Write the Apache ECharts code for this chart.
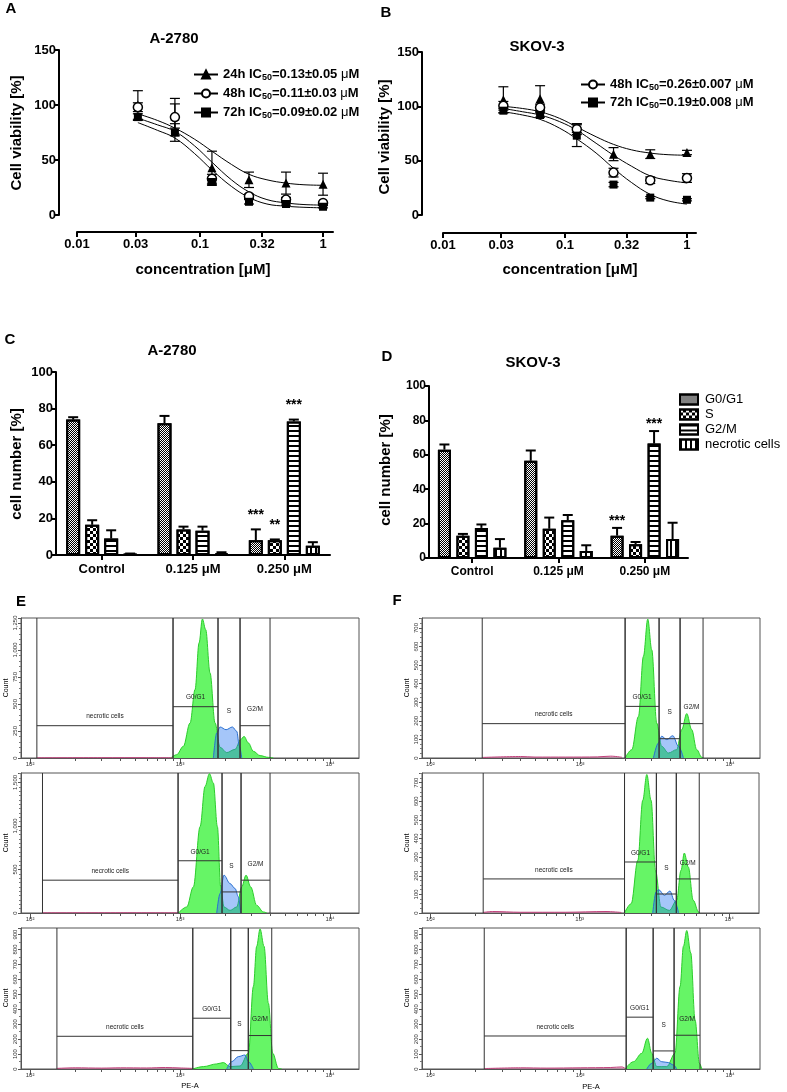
<!DOCTYPE html>
<html><head><meta charset="utf-8">
<script src="https://cdn.jsdelivr.net/npm/echarts@6/dist/echarts.min.js"></script>
<style>html,body{margin:0;padding:0;background:#fff}#c{width:787px;height:1092px}</style>
</head><body><div id="c"></div>
<script>
const FONT = '"Liberation Sans", Arial, sans-serif';
// ---------- Panels A / B : dose response ----------
const conc = [0.03125, 0.0625, 0.125, 0.25, 0.5, 1];
const doseTicks = [0.01, 0.03, 0.1, 0.32, 1];
const doseTickLabels = ['0.01', '0.03', '0.1', '0.32', '1'];
const A_24h = [100, 90, 43, 32, 29, 28];
const A_24h_err = [13, 11, 15, 7, 10, 10];
const A_48h = [98, 89, 33, 17, 14, 11];
const A_48h_err = [4, 17, 4, 2, 2, 1];
const A_72h = [89, 75, 30, 12, 10, 7.5];
const A_72h_err = [3, 8, 3, 2, 1, 1];
const curveConc = [0.03125, 0.045, 0.0625, 0.09, 0.125, 0.18, 0.25, 0.35, 0.5, 0.7, 1];
const A_fit24 = [92, 86, 79, 69, 58, 46, 37, 32, 29, 27.5, 27];
const A_fit48 = [88, 82, 76, 63, 48, 32, 21, 14, 11, 9.5, 9];
const A_fit72 = [84, 77, 70, 56, 41, 26, 16, 10, 8, 7, 6.5];
const B_24h = [106, 107, 80, 56, 56, 57.5];
const B_24h_err = [12, 12, 4, 6, 4, 2];
const B_48h = [100.5, 99, 79, 39, 32, 34];
const B_48h_err = [4, 3, 5, 4, 3, 4];
const B_72h = [96, 92, 73, 28, 16, 14];
const B_72h_err = [2, 2, 10, 2, 1, 1];
const B_fit24 = [100, 98, 95, 89, 81, 72, 65, 60, 57, 55.5, 55];
const B_fit48 = [98, 95, 92, 86, 78, 66, 55, 45, 36, 32, 29.5];
const B_fit72 = [95, 92, 88, 80, 70, 57, 43, 30, 19, 13, 10];
const legendTextA = {'A 24h': ['24h IC', '50', '=0.13±0.05 '], 'A 48h': ['48h IC', '50', '=0.11±0.03 '], 'A 72h': ['72h IC', '50', '=0.09±0.02 ']};
const legendTextB = {'B 48h': ['48h IC', '50', '=0.26±0.007 '], 'B 72h': ['72h IC', '50', '=0.19±0.008 ']};

// ---------- Panels C / D : cell cycle bars ----------
const groups = ['Control', '0.125 μM', '0.250 μM'];
const phases = ['G0/G1', 'S', 'G2/M', 'necrotic cells'];
const C_vals = [[74, 72, 8], [16.5, 14, 8], [9, 13.3, 73], [0.5, 1, 5]];
const C_errs = [[1.3, 4, 6], [2.5, 1.5, 0.5], [4.5, 2.2, 1], [0.3, 0.5, 2]];
const C_sig = [['', '', '***'], ['', '', '**'], ['', '', '***'], ['', '', '']];
const D_vals = [[63, 56.5, 13], [13, 17, 8], [17.5, 22, 66.5], [6, 4, 11]];
const D_errs = [[3, 6, 4.5], [1, 6.5, 1.3], [2, 3, 7.3], [5, 3.4, 9.5]];
const D_sig = [['', '', '***'], ['', '', ''], ['', '', '***'], ['', '', '']];

// ---------- Panels E / F : flow cytometry histograms ----------
const flowMinorTicks = [100,200,300,400,500,600,700,800,900,1000,2000,3000,4000,5000,6000,7000,8000,9000,10000];
const flowMajorTicks = [100, 1000, 10000];
const gateNames = ['necrotic cells', 'G0/G1', 'S', 'G2/M'];
const E1_green = [[867,0],[950,31],[1052,108],[1166,324],[1259,633],[1339,1065],[1409,1287],[1483,1188],[1585,787],[1711,324],[1848,100],[2047,50],[2327,80],[2536,170],[2671,200],[2856,139],[3083,62],[3415,22],[3880,6],[4188,0]];
const E1_blue = [[1668,0],[1756,231],[1848,287],[2027,262],[2234,287],[2388,247],[2487,108],[2577,0]];
const E1_debris = [[111,2],[300,3],[600,3],[898,2]];
const E1_gates = [[111,898,299],[898,1791,475],[1791,2512,null],[2512,3981,299]];
const E2_green = [[975,0],[1108,69],[1227,300],[1360,992],[1468,1454],[1570,1600],[1668,1492],[1774,992],[1866,300],[1963,69],[2154,30],[2388,69],[2577,300],[2754,435],[2958,300],[3243,88],[3594,12],[3786,0]];
const E2_blue = [[1756,0],[1848,223],[1963,435],[2154,338],[2327,281],[2449,185],[2536,0]];
const E2_debris = [[121,2],[400,3],[970,2]];
const E2_gates = [[121,970,377],[970,1905,600],[1905,2551,242],[2551,3981,377]];
const E3_green = [[1214,0],[1431,16],[1756,34],[1944,43],[2154,16],[2512,20],[2856,105],[3083,553],[3243,822],[3415,938],[3631,822],[3880,441],[4150,105],[4529,4],[4764,0]];
const E3_blue = [[2047,0],[2210,49],[2449,83],[2712,94],[2856,49],[3083,0]];
const E3_debris = [[151,4],[200,8],[300,6],[400,8],[600,7],[800,10],[1000,7],[1216,4]];
const E3_gates = [[151,1216,219],[1216,2178,340],[2178,2851,123],[2851,4086,224]];
const F1_green = [[1995,0],[2210,45],[2449,224],[2642,547],[2825,748],[3004,583],[3243,188],[3499,63],[3880,27],[4406,45],[4764,153],[5143,239],[5549,153],[5995,45],[6477,4],[6643,0]];
const F1_blue = [[3083,0],[3327,81],[3499,117],[3784,99],[4150,120],[4529,63],[4888,0]];
const F1_debris = [[222,3],[400,8],[500,5],[800,5],[1300,6],[1600,10],[1900,4]];
const F1_gates = [[222,1995,185],[1995,3362,278],[3362,4642,104],[4642,6607,185]];
const F2_green = [[1995,0],[2210,50],[2449,283],[2642,605],[2813,744],[3004,605],[3214,229],[3499,32],[3981,14],[4457,68],[4764,229],[5012,322],[5330,247],[5754,68],[6252,5],[6374,0]];
const F2_blue = [[3083,0],[3243,113],[3381,125],[3690,95],[4018,118],[4295,68],[4592,0]];
const F2_debris = [[226,3],[260,8],[400,4],[800,4],[1500,8],[1900,3]];
const F2_gates = [[226,1995,183],[1995,3260,274],[3260,4432,102],[4432,6310,183]];
const F3_green = [[1995,0],[2268,49],[2577,105],[2813,206],[3004,105],[3243,16],[3784,16],[4295,105],[4642,553],[4888,822],[5143,927],[5470,777],[5843,329],[6252,38],[6477,0]];
const F3_blue = [[2783,0],[3004,38],[3243,72],[3499,49],[3880,43],[4188,27],[4406,0]];
const F3_debris = [[229,3],[400,8],[600,6],[1000,8],[1600,10],[1900,14],[1995,4]];
const F3_gates = [[229,2028,221],[2028,3069,347],[3069,4234,121],[4234,6310,226]];
const flowYMax = [1296, 1608, 944, 754, 752, 944];
const flowYInterval = [250, 500, 100, 100, 100, 100];

// ================= build option =================
const chart = echarts.init(document.getElementById('c'), null, {renderer: 'canvas'});
const flowData = [
  [E1_green, E1_blue, E1_debris, E1_gates], [E2_green, E2_blue, E2_debris, E2_gates], [E3_green, E3_blue, E3_debris, E3_gates],
  [F1_green, F1_blue, F1_debris, F1_gates], [F2_green, F2_blue, F2_debris, F2_gates], [F3_green, F3_blue, F3_debris, F3_gates]
];
const flowGridPos = [
  {left: 21, top: 618, width: 338, height: 140}, {left: 21, top: 773, width: 338, height: 140}, {left: 21, top: 928, width: 338, height: 141},
  {left: 422, top: 618, width: 338, height: 140}, {left: 422, top: 773, width: 337, height: 140}, {left: 422, top: 928, width: 338, height: 141}
];
const flowXRange = [[87, 15600], [87, 15600], [87, 15600], [88, 15850], [88, 15850], [88, 15850]];
const flowMinorSplit = [5, 10, 2, 4, 4, 2];

const grid = [
  {left: 77, top: 50, width: 256, height: 165},
  {left: 443, top: 52, width: 253, height: 163},
  {left: 56, top: 372, width: 274, height: 183},
  {left: 429, top: 386, width: 259, height: 172}
].concat(flowGridPos.map(p => Object.assign({show: true, borderColor: '#555', borderWidth: 1, backgroundColor: 'transparent'}, p)));

function nearestDoseLabel(v) {
  let best = 0, bd = 1e9;
  doseTicks.forEach((t, i) => { const d = Math.abs(Math.log10(t) - Math.log10(v)); if (d < bd) { bd = d; best = i; } });
  return doseTickLabels[best];
}
function doseX(gi, max, offset) {
  return {type: 'log', logBase: 10, gridIndex: gi, min: 0.01, max: max, offset: offset, position: 'bottom',
    axisLine: {show: true, onZero: false, lineStyle: {color: '#000', width: 2}},
    axisTick: {show: true, customValues: doseTicks, length: 5, lineStyle: {color: '#000', width: 2}},
    axisLabel: {show: true, customValues: doseTicks, formatter: nearestDoseLabel, fontFamily: FONT, fontWeight: 'bold', fontSize: 13, color: '#000', margin: 6},
    splitLine: {show: false}, minorTick: {show: false}};
}
function boldY(gi, max, interval, offset, fs) {
  return {type: 'value', gridIndex: gi, min: 0, max: max, interval: interval, offset: offset, position: 'left',
    axisLine: {show: true, onZero: false, lineStyle: {color: '#000', width: 2}},
    axisTick: {show: true, length: 5, lineStyle: {color: '#000', width: 2}},
    axisLabel: {fontFamily: FONT, fontWeight: 'bold', fontSize: fs, color: '#000', margin: 3},
    splitLine: {show: false}};
}
function catX(gi, fs) {
  return {type: 'category', gridIndex: gi, data: groups, position: 'bottom',
    axisLine: {show: true, onZero: false, lineStyle: {color: '#000', width: 2}},
    axisTick: {show: true, alignWithLabel: true, length: 5, lineStyle: {color: '#000', width: 2}},
    axisLabel: {fontFamily: FONT, fontWeight: 'bold', fontSize: fs, color: '#000', margin: 8},
    splitLine: {show: false}};
}
const supDigits = {2: '²', 3: '³', 4: '⁴'};
const xAxis = [doseX(0, 1.205, 17), doseX(1, 1.186, 18), catX(2, 13), catX(3, 12)];
const yAxis = [boldY(0, 150, 50, 18, 13), boldY(1, 150, 50, 21, 13), boldY(2, 100, 20, 0, 13), boldY(3, 100, 20, 0, 12)];
flowGridPos.forEach((p, k) => {
  const gi = 4 + k;
  xAxis.push({type: 'log', logBase: 10, gridIndex: gi, min: flowXRange[k][0], max: flowXRange[k][1], position: 'bottom',
    axisLine: {show: true, onZero: false, lineStyle: {color: '#555', width: 1}},
    axisTick: {show: true, customValues: flowMinorTicks, length: 3, lineStyle: {color: '#555'}},
    axisLabel: {show: false}, splitLine: {show: false}});
  yAxis.push({type: 'value', gridIndex: gi, min: 0, max: flowYMax[k], interval: flowYInterval[k], position: 'left',
    axisLine: {show: true, onZero: false, lineStyle: {color: '#555', width: 1}},
    axisTick: {show: true, length: 3, lineStyle: {color: '#555'}},
    minorTick: {show: true, splitNumber: flowMinorSplit[k], length: 2, lineStyle: {color: '#777'}},
    axisLabel: {rotate: 90, fontSize: 6, margin: 3, color: '#333', fontFamily: FONT, showMaxLabel: false,
      formatter: v => v.toLocaleString('en-US')},
    splitLine: {show: false}});
});
flowGridPos.forEach((p, k) => {
  xAxis.push({type: 'log', logBase: 10, gridIndex: 4 + k, min: flowXRange[k][0], max: flowXRange[k][1], position: 'bottom',
    axisLine: {show: false, onZero: false},
    axisTick: {show: true, customValues: flowMajorTicks, length: 6, lineStyle: {color: '#555'}},
    axisLabel: {show: true, customValues: flowMajorTicks, fontSize: 6, margin: 3, color: '#333', fontFamily: FONT,
      formatter: v => '10' + supDigits[Math.round(Math.log10(v))]},
    splitLine: {show: false}});
});

const series = [];
// ---- dose-response series
function curve(name, ai, vals, symbol, size) {
  return {name: name, type: 'line', xAxisIndex: ai, yAxisIndex: ai, data: curveConc.map((c, i) => [c, vals[i]]),
    smooth: 0.4, showSymbol: false, symbol: symbol, symbolSize: size, silent: true, z: 2,
    lineStyle: {color: '#000', width: 1}, itemStyle: {color: '#000', borderColor: '#000', borderWidth: 1.5}};
}
function doseErr(ai, vals, errs) {
  return {type: 'custom', xAxisIndex: ai, yAxisIndex: ai, z: 3, silent: true,
    data: conc.map((c, i) => [c, vals[i], errs[i]]), encode: {x: 0, y: 1},
    renderItem: (params, api) => {
      const x = api.value(0), v = api.value(1), e = api.value(2);
      const p0 = api.coord([x, v - e]), p1 = api.coord([x, v + e]);
      const cx = p0[0];
      const st = {stroke: '#000', lineWidth: 1.2};
      return {type: 'group', children: [
        {type: 'line', shape: {x1: cx, y1: p0[1], x2: cx, y2: p1[1]}, style: st},
        {type: 'line', shape: {x1: cx - 5, y1: p1[1], x2: cx + 5, y2: p1[1]}, style: st},
        {type: 'line', shape: {x1: cx - 5, y1: p0[1], x2: cx + 5, y2: p0[1]}, style: st}]};
    }};
}
function markers(ai, vals, symbol, size, fill) {
  return {type: 'scatter', xAxisIndex: ai, yAxisIndex: ai, z: 4, silent: true, symbol: symbol, symbolSize: size,
    data: conc.map((c, i) => [c, vals[i]]),
    itemStyle: {color: fill, borderColor: '#000', borderWidth: fill === '#fff' ? 1.5 : 0, opacity: 1}};
}
series.push(curve('A 24h', 0, A_fit24, 'triangle', 10), curve('A 48h', 0, A_fit48, 'emptyCircle', 10), curve('A 72h', 0, A_fit72, 'rect', 9));
series.push(doseErr(0, A_24h, A_24h_err), doseErr(0, A_48h, A_48h_err), doseErr(0, A_72h, A_72h_err));
series.push(markers(0, A_24h, 'triangle', 9, '#000'), markers(0, A_48h, 'circle', 9, '#fff'), markers(0, A_72h, 'rect', 8, '#000'));
series.push(curve('B 24h', 1, B_fit24, 'triangle', 10), curve('B 48h', 1, B_fit48, 'emptyCircle', 10), curve('B 72h', 1, B_fit72, 'rect', 9));
series.push(doseErr(1, B_24h, B_24h_err), doseErr(1, B_48h, B_48h_err), doseErr(1, B_72h, B_72h_err));
series.push(markers(1, B_24h, 'triangle', 9, '#000'), markers(1, B_48h, 'circle', 9, '#fff'), markers(1, B_72h, 'rect', 8, '#000'));

// ---- bar series
const decals = [
  {symbol: 'rect', symbolSize: 1, symbolKeepAspect: false, color: '#000', dashArrayX: [[1, 1], [0, 1, 1, 0]], dashArrayY: [1, 0]},
  {symbol: 'rect', symbolSize: 1, symbolKeepAspect: false, color: '#000', dashArrayX: [[3, 3], [0, 3, 3, 0]], dashArrayY: [3, 0]},
  {symbol: 'rect', symbolSize: 1, symbolKeepAspect: false, color: '#000', dashArrayX: [1, 0], dashArrayY: [1.5, 2.5]},
  {symbol: 'rect', symbolSize: 1, symbolKeepAspect: false, color: '#000', dashArrayX: [1.5, 3], dashArrayY: [1, 0]}
];
function barSet(ai, prefix, vals, errs, sigs, barW, gap, starOff) {
  phases.forEach((ph, k) => {
    series.push({name: prefix + ph, type: 'bar', xAxisIndex: ai, yAxisIndex: ai, data: vals[k], barWidth: barW,
      barGap: (gap / barW * 100) + '%', silent: true, z: 2,
      itemStyle: {color: '#fff', borderColor: '#000', borderWidth: 2, decal: decals[k]}});
  });
  phases.forEach((ph, k) => {
    const off = (k - 1.5) * (barW + gap);
    series.push({type: 'custom', xAxisIndex: ai, yAxisIndex: ai, z: 3, silent: true,
      data: vals[k].map((v, i) => [i, v + errs[k][i]]), encode: {x: 0, y: 1},
      renderItem: (params, api) => {
        const i = params.dataIndex;
        const base = api.coord([i, vals[k][i]]), top = api.coord([i, vals[k][i] + errs[k][i]]);
        const x = base[0] + off;
        const st = {stroke: '#000', lineWidth: 2};
        const ch = [
          {type: 'line', shape: {x1: x, y1: base[1], x2: x, y2: top[1]}, style: st},
          {type: 'line', shape: {x1: x - 5, y1: top[1], x2: x + 5, y2: top[1]}, style: st}];
        if (sigs[k][i]) ch.push({type: 'text', x: x, y: top[1] - starOff,
          style: {text: sigs[k][i], font: 'bold 14px ' + FONT, fill: '#000', align: 'center', verticalAlign: 'bottom', textAlign: 'center', textVerticalAlign: 'bottom'}});
        return {type: 'group', children: ch};
      }});
  });
}
barSet(2, 'c ', C_vals, C_errs, C_sig, 14, 5, 7);
barSet(3, '', D_vals, D_errs, D_sig, 13, 5.5, 0);

// ---- flow series
const labelOff = [9, 9, 26, 16];
flowData.forEach((fd, k) => {
  const ai = 4 + k;
  const [green, blue, debris, gates] = fd;
  series.push({type: 'line', xAxisIndex: ai, yAxisIndex: ai, data: green, smooth: 0.35, smoothMonotone: 'x', symbol: 'none', silent: true, z: 2,
    lineStyle: {color: '#2ccc2c', width: 1}, areaStyle: {color: '#66f566', opacity: 1}});
  series.push({type: 'line', xAxisIndex: ai, yAxisIndex: ai, data: blue, smooth: 0.35, smoothMonotone: 'x', symbol: 'none', silent: true, z: 3,
    lineStyle: {color: '#2a6fd0', width: 1}, areaStyle: {color: 'rgba(40,120,240,0.6)'}});
  series.push({type: 'line', xAxisIndex: ai, yAxisIndex: ai, data: debris, smooth: 0.3, symbol: 'none', silent: true, z: 3,
    lineStyle: {color: '#c0407a', width: 1}, areaStyle: {color: 'rgba(200,80,140,0.5)'}});
  series.push({type: 'custom', xAxisIndex: ai, yAxisIndex: ai, z: 5, silent: true,
    data: gates.map(g => [g[0], g[1], g[2] == null ? 0 : g[2]]), encode: {x: [0, 1], y: 2},
    renderItem: (params, api) => {
      const i = params.dataIndex, g = gates[i];
      const cs = params.coordSys;
      const top = cs.y, bot = cs.y + cs.height;
      const x1 = api.coord([g[0], 0])[0], x2 = api.coord([g[1], 0])[0];
      const st = {stroke: '#333', lineWidth: 1};
      const ch = [
        {type: 'line', shape: {x1: x1, y1: top, x2: x1, y2: bot}, style: st},
        {type: 'line', shape: {x1: x2, y1: top, x2: x2, y2: bot}, style: st}];
      let ly;
      if (g[2] != null) {
        const y = api.coord([g[0], g[2]])[1];
        ch.push({type: 'line', shape: {x1: x1, y1: y, x2: x2, y2: y}, style: st});
        ly = y - labelOff[i];
      } else {
        ly = api.coord([g[0], gates[3][2]])[1] - 14;
      }
      ch.push({type: 'text', x: (x1 + x2) / 2, y: ly,
        style: {text: gateNames[i], font: '6.5px ' + FONT, fill: '#222', align: 'center', verticalAlign: 'middle', textAlign: 'center', textVerticalAlign: 'middle'}});
      return {type: 'group', children: ch};
    }});
});

// ---- legends
const richLeg = {
  b: {fontFamily: FONT, fontWeight: 'bold', fontSize: 13, color: '#000', lineHeight: 15},
  s: {fontFamily: FONT, fontWeight: 'bold', fontSize: 9, color: '#000', lineHeight: 15, verticalAlign: 'bottom', padding: [5, 0, 0, 0]},
  m: {fontFamily: FONT, fontSize: 13, color: '#000', lineHeight: 15}
};
function legFmt(map) { return name => { const p = map[name]; return '{b|' + p[0] + '}{s|' + p[1] + '}{b|' + p[2] + '}{m|μ}{b|M}'; }; }
const legend = [
  {data: ['A 24h', 'A 48h', 'A 72h'], orient: 'vertical', left: 188, top: 63, itemWidth: 24, itemHeight: 10, itemGap: 5,
    formatter: legFmt(legendTextA), textStyle: {rich: richLeg}, selectedMode: false},
  {data: ['B 48h', 'B 72h'], orient: 'vertical', left: 575, top: 73, itemWidth: 24, itemHeight: 10, itemGap: 4,
    formatter: legFmt(legendTextB), textStyle: {rich: richLeg}, selectedMode: false},
  {data: phases, orient: 'vertical', left: 674, top: 388, itemWidth: 18, itemHeight: 10, itemGap: 2, icon: 'rect', selectedMode: false,
    itemStyle: {borderColor: '#000', borderWidth: 2},
    textStyle: {fontFamily: FONT, fontSize: 13, color: '#000', padding: [0, 0, 0, 2]}}
];

// ---- texts
const T = (text, x, y, font, rot) => ({type: 'text', x: x, y: y, rotation: rot || 0, silent: true,
  style: {text: text, font: font, fill: '#000', align: 'center', verticalAlign: 'middle', textAlign: 'center', textVerticalAlign: 'middle'}});
const R = Math.PI / 2;
const graphic = [
  T('A', 11, 9, 'bold 15px ' + FONT), T('B', 386, 13, 'bold 15px ' + FONT), T('C', 10, 340, 'bold 15px ' + FONT),
  T('D', 387, 357, 'bold 15px ' + FONT), T('E', 21, 602, 'bold 15px ' + FONT), T('F', 397, 601, 'bold 15px ' + FONT),
  T('A-2780', 174, 39, 'bold 15px ' + FONT), T('SKOV-3', 537, 47, 'bold 15px ' + FONT),
  T('A-2780', 172, 351, 'bold 15px ' + FONT), T('SKOV-3', 533, 363, 'bold 15px ' + FONT),
  T('Cell viability [%]', 17, 133, 'bold 15px ' + FONT, R), T('Cell viability [%]', 385, 137, 'bold 15px ' + FONT, R),
  T('cell number [%]', 17, 464, 'bold 15px ' + FONT, R), T('cell number [%]', 386, 470, 'bold 15px ' + FONT, R),
  T('concentration [μM]', 203, 270, 'bold 15px ' + FONT), T('concentration [μM]', 570, 270, 'bold 15px ' + FONT),
  T('Count', 6, 688, '7px ' + FONT, R), T('Count', 6, 843, '7px ' + FONT, R), T('Count', 6, 998, '7px ' + FONT, R),
  T('Count', 407, 688, '7px ' + FONT, R), T('Count', 407, 843, '7px ' + FONT, R), T('Count', 407, 998, '7px ' + FONT, R),
  T('PE-A', 190, 1086, '7.5px ' + FONT), T('PE-A', 591, 1087, '7.5px ' + FONT)
];

chart.setOption({animation: false, backgroundColor: '#fff', grid: grid, xAxis: xAxis, yAxis: yAxis, series: series, legend: legend, graphic: graphic});
</script></body></html>
